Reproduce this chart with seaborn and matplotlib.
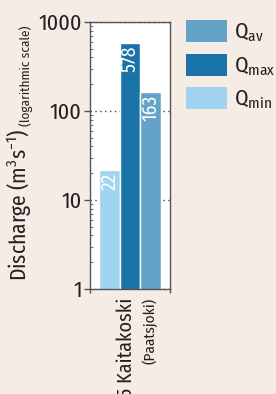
import matplotlib
matplotlib.use("Agg")
import matplotlib.pyplot as plt
import seaborn as sns
import pandas as pd
from matplotlib.ticker import LogLocator, NullFormatter, FixedLocator
from matplotlib.patches import Patch
from matplotlib import font_manager as fm

stations = ["5 Kaitakoski"]
station_sub = ["(Paatsjoki)"]
series = ["Qmin", "Qmax", "Qav"]
values = [22, 578, 163]
legend_order = ["Qav", "Qmax", "Qmin"]
legend_labels = {"Qav": "Q$_{\\mathregular{av}}$", "Qmax": "Q$_{\\mathregular{max}}$", "Qmin": "Q$_{\\mathregular{min}}$"}
colors = {"Qmin": "#a1d4f1", "Qmax": "#1a74a8", "Qav": "#64a2c8"}
yticks = [1, 10, 100, 1000]

BG = "#f5ece6"
avail = {f.name for f in fm.fontManager.ttflist}
cands = ["Fira Sans Condensed", "PT Sans Narrow", "Asap Condensed", "Archivo Narrow"]
MAIN = next((c for c in cands if c in avail), "DejaVu Sans")
FONT = [MAIN, "DejaVu Sans"]

df = pd.DataFrame({"station": stations * len(series), "series": series, "value": values})

sns.set_style("white")
plt.rcParams["font.family"] = FONT
plt.rcParams["mathtext.fontset"] = "custom"
plt.rcParams["mathtext.rm"] = MAIN
plt.rcParams["text.color"] = "#231f20"

fig = plt.figure(figsize=(2.76, 3.94), dpi=100, facecolor=BG)
ax = fig.add_axes([90/276, 1-289/394, 80/276, 267/394])
ax.set_facecolor("white")

sns.barplot(data=df, x="station", y="value", hue="series", hue_order=series,
            palette=colors, ax=ax, edgecolor="white", linewidth=1, saturation=1,
            width=0.8, legend=False)
ax.set_yscale("log")
ax.set_ylim(1, 1000)
ax.set_xlim(-0.52, 0.52)
ax.set_axisbelow(True)
ax.yaxis.grid(True, which="major", ls=(0, (1, 2.5)), color="#444444", lw=1)
ax.xaxis.grid(False)

ax.yaxis.set_major_locator(FixedLocator(yticks))
ax.set_yticklabels([str(t) for t in yticks])
ax.yaxis.set_minor_locator(LogLocator(base=10, subs=range(2, 10)))
ax.yaxis.set_minor_formatter(NullFormatter())
ax.tick_params(axis="y", which="major", direction="out", length=4, width=1,
               color="#555555", labelsize=16, pad=2, left=True, labelcolor="#231f20")
ax.tick_params(axis="y", which="minor", direction="in", length=2, width=0.8,
               color="#777777", left=True)
ax.set_xticks([0])
ax.set_xticklabels([""])
ax.set_xticks([-0.52, 0.52], minor=True)
ax.tick_params(axis="x", which="major", length=0)
ax.tick_params(axis="x", which="minor", direction="out", length=3, width=1,
               color="#555555", bottom=True)
for s in ax.spines.values():
    s.set_color("#555555")
    s.set_linewidth(1)
ax.set_xlabel("")
ax.set_ylabel("")

# value labels
for patch, v in zip(ax.patches, values):
    ax.annotate(f"{v}", (patch.get_x() + patch.get_width()/2, patch.get_height()),
                xytext=(0, -2), textcoords="offset points", rotation=90,
                ha="center", va="top", color="white", fontsize=14)

# x labels
ax.annotate(stations[0], (0, 0), xycoords=("data", "axes fraction"),
            xytext=(-3, -6), textcoords="offset points", rotation=90,
            ha="center", va="top", fontsize=14.5)
ax.annotate(station_sub[0], (0, 0), xycoords=("data", "axes fraction"),
            xytext=(14, -6), textcoords="offset points", rotation=90,
            ha="center", va="top", fontsize=11)

# y label
fig.text(33/276, 1-281/394, "Discharge (m$^{3}$s$^{-1}$)", rotation=90,
         ha="left", va="bottom", fontsize=15.5, rotation_mode="anchor")
fig.text(33/276, 1-126/394, "(logarithmic scale)", rotation=90,
         ha="left", va="bottom", fontsize=9.5, rotation_mode="anchor")

# legend
handles = [Patch(facecolor=colors[k], edgecolor="none") for k in legend_order]
fig.legend(handles, [legend_labels[k] for k in legend_order],
           loc="upper left", bbox_to_anchor=(184/276, 1-18/394),
           frameon=False, fontsize=15.5, handlelength=1.9, handleheight=1.2,
           labelspacing=0.45, handletextpad=0.3, borderaxespad=0, borderpad=0.1)

fig.savefig("out.png", dpi=100, facecolor=BG)
